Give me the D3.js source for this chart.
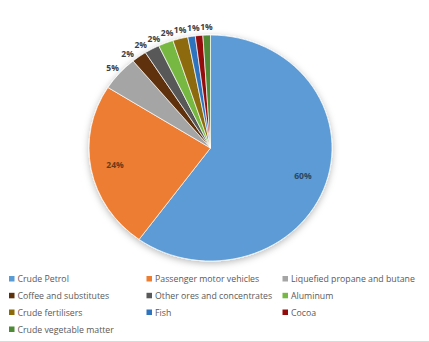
<!DOCTYPE html>
<html>
<head>
<meta charset="utf-8">
<script src="https://cdn.jsdelivr.net/npm/d3@7"></script>
<style>
  html, body { margin: 0; padding: 0; background: #fff; }
  svg { display: block; }
  text { font-family: "Open Sans", "Noto Sans", sans-serif; }
</style>
</head>
<body>
<svg id="chart" width="429" height="342"></svg>
<script>
// Export shares by product, percent
const categories = [
  "Crude Petrol",
  "Passenger motor vehicles",
  "Liquefied propane and butane",
  "Coffee and substitutes",
  "Other ores and concentrates",
  "Aluminum",
  "Crude fertilisers",
  "Fish",
  "Cocoa",
  "Crude vegetable matter"
];
const shares = [60, 24, 5, 2, 2, 2, 2, 1, 1, 1];
const colors = [
  "#5B9BD5", "#ED7D31", "#A5A5A5", "#5E3009", "#595959",
  "#76B843", "#8C6A07", "#2E73BE", "#930a0a", "#4F8A35"
];

const W = 429, H = 342;
const cx = 210.5, cy = 148;
const ry = 113, rx = 121.5;          // plot area is slightly wider than tall
const sx = rx / ry;

const svg = d3.select("#chart");

const defs = svg.append("defs");
const shadow = defs.append("filter").attr("id", "pieShadow")
  .attr("x", "-20%").attr("y", "-20%").attr("width", "140%").attr("height", "140%");
shadow.append("feDropShadow")
  .attr("dx", 0).attr("dy", 2).attr("stdDeviation", 3.5)
  .attr("flood-color", "#000").attr("flood-opacity", 0.28);

const data = categories.map((name, i) => ({ name, value: shares[i], color: colors[i] }));

const pie = d3.pie().value(d => d.value).sort(null);
const arcs = pie(data);
const arc = d3.arc().innerRadius(0).outerRadius(ry);

const pieG = svg.append("g")
  .attr("transform", `translate(${cx},${cy}) scale(${sx},1)`)
  .attr("filter", "url(#pieShadow)");

pieG.selectAll("path")
  .data(arcs)
  .join("path")
  .attr("d", arc)
  .attr("fill", d => d.data.color)
  .attr("stroke", "#fff")
  .attr("stroke-width", 0.7)
  .attr("vector-effect", "non-scaling-stroke");

// Position on the ellipse for angle a at radial factor f plus an outward offset
function pos(a, f, extra) {
  return [cx + (rx * f + extra) * Math.sin(a), cy - (ry * f + extra) * Math.cos(a)];
}

const labelG = svg.append("g")
  .attr("font-size", 8.5)
  .attr("font-weight", 700)
  .attr("text-anchor", "middle")
  .attr("dominant-baseline", "central");

const labels = labelG.selectAll("text")
  .data(arcs)
  .join("text")
  .attr("fill", d => d.data.value >= 10 ? d3.color(d.data.color).darker(2.2) : "#404040")
  .text(d => d3.format(".0f")(d.value) + "%");

// Large slices: label inside. Small slices: label just outside the rim,
// slid back along the rim (counter-clockwise) until it clears its neighbour.
const boxH = 9.5, OUT = 9;
let prev = null;
const order = arcs.map((d, i) => i).reverse();
order.forEach(i => {
  const d = arcs[i];
  const node = labels.nodes()[i];
  let a = (d.startAngle + d.endAngle) / 2;
  if (d.data.value >= 10) {
    const [x, y] = pos(a, 0.8, 0);
    d3.select(node).attr("x", x).attr("y", y);
    return;
  }
  const w = node.getComputedTextLength() + 0.5;
  let [x, y] = pos(a, 1, OUT);
  while (prev && Math.abs(x - prev.x) < (w + prev.w) / 2 && Math.abs(y - prev.y) < boxH) {
    a -= 0.002;
    [x, y] = pos(a, 1, OUT);
  }
  d3.select(node).attr("x", x).attr("y", y);
  prev = { x, y, w };
});

// Legend: three columns
const colX = [9, 146.5, 282.5];
const rowY = [279, 295.8, 312.5, 329.5];
const legend = svg.append("g").attr("font-size", 8.75).attr("fill", "#595959");
const items = legend.selectAll("g")
  .data(data)
  .join("g")
  .attr("transform", (d, i) => `translate(${colX[i % 3]},${rowY[Math.floor(i / 3)]})`);
items.append("rect")
  .attr("x", 0).attr("y", -3).attr("width", 5.5).attr("height", 5.5)
  .attr("fill", d => d.color);
items.append("text")
  .attr("x", 8.5).attr("y", 0)
  .attr("dominant-baseline", "central")
  .text(d => d.name);

// thin frame line along the bottom of the chart area
svg.append("line")
  .attr("x1", 0).attr("x2", W).attr("y1", H - 0.5).attr("y2", H - 0.5)
  .attr("stroke", "#d9d9d9").attr("stroke-width", 1);
</script>
</body>
</html>
